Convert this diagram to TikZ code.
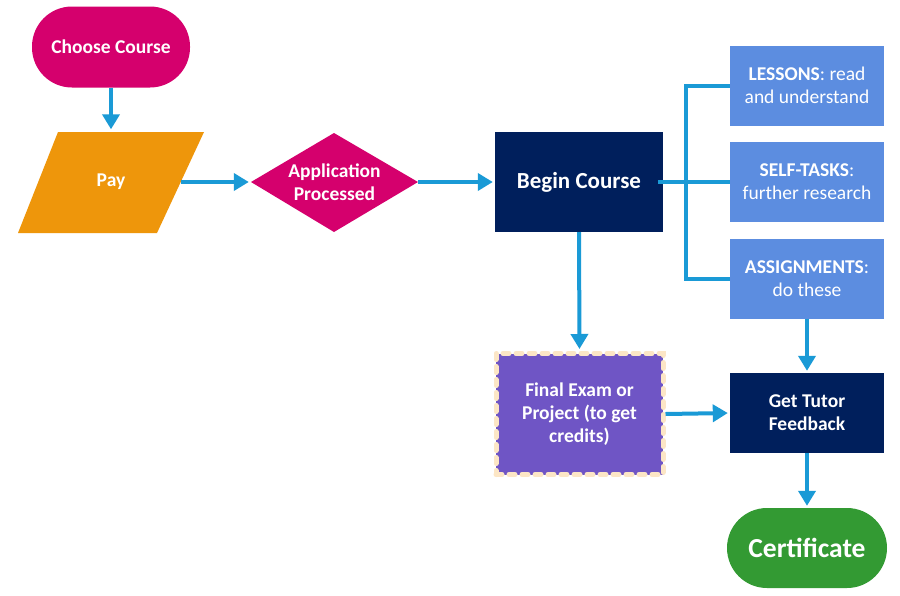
\documentclass[tikz,border=0pt]{standalone}
\usepackage{fontspec}
\setmainfont{Carlito}
\usetikzlibrary{arrows.meta}
\definecolor{cmag}{HTML}{D5006D}
\definecolor{corange}{HTML}{EE960B}
\definecolor{cnavy}{HTML}{001F5C}
\definecolor{cblue}{HTML}{5C8DE0}
\definecolor{cpurple}{HTML}{6F55C5}
\definecolor{cgreen}{HTML}{339A33}
\definecolor{carrow}{HTML}{1A9AD6}
\definecolor{cpeach}{HTML}{FCE6C6}
\tikzset{
  x=1pt, y=-1pt,
  conn/.style={draw=carrow, line width=4pt},
  arr/.style={conn, -{Triangle[length=15pt,width=17pt]}, shorten >=2pt},
  boxn/.style={rectangle, inner sep=0pt, text=white, align=center},
  bfont/.style={font=\fontsize{19.5}{22.5}\selectfont\bfseries},
  bluebox/.style={boxn, fill=cblue, minimum width=154pt, minimum height=80pt, font=\fontsize{19.5}{23}\selectfont},
}
\begin{document}
\begin{tikzpicture}
\useasboundingbox[fill=white] (0,0) rectangle (900,595);

% Choose Course
\node[boxn, fill=cmag, rounded corners=40pt, minimum width=158pt, minimum height=81pt, bfont] (choose) at (111,47) {Choose Course};

% Pay parallelogram
\fill[corange] (58,132) -- (204,132) -- (157,233) -- (18,233) -- cycle;
\node[boxn, minimum width=140pt, minimum height=101pt, bfont] (pay) at (111,182) {Pay};

% Application diamond
\fill[cmag] (251,182) -- (334,133) -- (418,182) -- (334,232) -- cycle;
\node[boxn, minimum width=167pt, minimum height=99pt, bfont] (app) at (334.5,182) {Application\\Processed};

% Begin Course
\node[boxn, fill=cnavy, minimum width=168pt, minimum height=100pt, font=\fontsize{23}{26}\selectfont\bfseries] (begin) at (579,182) {Begin Course};

% Right boxes
\node[bluebox] (lessons) at (807,85.5) {\textbf{LESSONS}: read\\and understand};
\node[bluebox] (self) at (807,182) {\textbf{SELF-TASKS}:\\further research};
\node[bluebox] (assign) at (807,278.5) {\textbf{ASSIGNMENTS}:\\do these};

% Get Tutor Feedback
\node[boxn, fill=cnavy, minimum width=154pt, minimum height=80pt, font=\fontsize{19.5}{23}\selectfont\bfseries] (tutor) at (807,413) {Get Tutor\\Feedback};

% Certificate
\node[boxn, fill=cgreen, rounded corners=40pt, minimum width=160pt, minimum height=80pt, font=\fontsize{27.5}{30}\selectfont\bfseries] (cert) at (807,548) {Certificate};

% Final Exam
\node[boxn, fill=cpurple, draw=cpeach, line width=5pt, line cap=round, dash pattern=on 6pt off 7pt, minimum width=167pt, minimum height=121pt, font=\fontsize{19.5}{23}\selectfont\bfseries] (final) at (579.5,414) {Final Exam or\\Project (to get\\credits)};

% Connectors
\draw[arr] (choose.south) -- (pay.north);
\draw[arr] (pay.east) -- (app.west);
\draw[arr] (app.east) -- (begin.west);
\draw[conn] ([xshift=-5pt]begin.east) -- (self.west);
\draw[conn] (lessons.west) -- ++(-44,0) |- (assign.west);
\draw[arr] (begin.south) -- (final.north);
\draw[arr] (final.east) -- (tutor.west);
\draw[arr] (assign.south) -- (tutor.north);
\draw[arr] (tutor.south) -- (cert.north);
\end{tikzpicture}
\end{document}
